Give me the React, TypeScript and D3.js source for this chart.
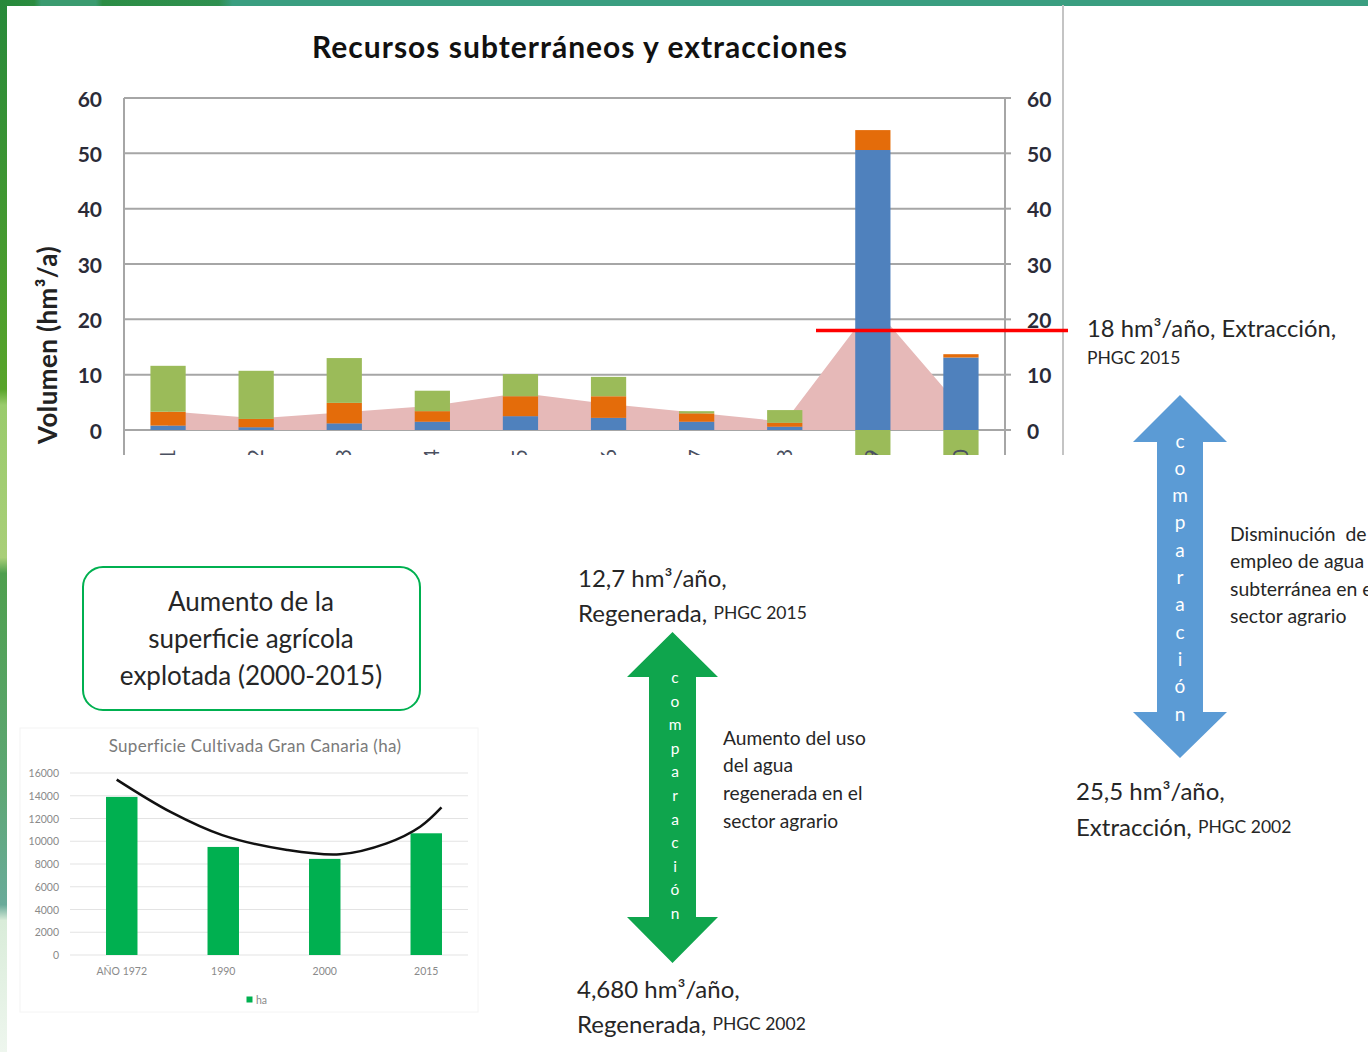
import React from 'react';
import * as d3 from 'd3';

// ---------- Main chart data ----------
const categories = ['1', '2', '3', '4', '5', '6', '7', '8', '9', '10'];
const blueValues = [0.8, 0.5, 1.2, 1.5, 2.5, 2.2, 1.5, 0.6, 50.6, 13.1];
const orangeValues = [2.5, 1.5, 3.7, 1.9, 3.6, 3.9, 1.5, 0.7, 3.6, 0.6];
const greenValues = [8.3, 8.7, 8.1, 3.7, 4.0, 3.5, 0.4, 2.3, -6, -6];
const areaValues = [3.4, 2.1, 3.2, 4.4, 6.7, 4.7, 3.1, 1.5, 22.5, 4.0];
const mainTicks = [0, 10, 20, 30, 40, 50, 60];
const extraction2015 = 18;

// ---------- Small chart data ----------
const farmYears = ['AÑO 1972', '1990', '2000', '2015'];
const farmHa = [13900, 9500, 8450, 10700];
const farmTicks = [0, 2000, 4000, 6000, 8000, 10000, 12000, 14000, 16000];
const trendIdx = [-0.05, 0.48, 0.99, 1.63, 2.15, 2.61, 2.94, 3.15];
const trendHa = [15420, 12580, 10540, 9230, 8850, 9810, 11270, 12970];

const W = 1368;
const H = 1052;
const FONT = "Lato, 'Open Sans', sans-serif";
const TXT = '#262626';

function arrowPath(cx: number, tipTop: number, baseTop: number, baseBot: number, tipBot: number, sh: number, hh: number) {
  const p = d3.path();
  p.moveTo(cx, tipTop);
  p.lineTo(cx + hh, baseTop);
  p.lineTo(cx + sh, baseTop);
  p.lineTo(cx + sh, baseBot);
  p.lineTo(cx + hh, baseBot);
  p.lineTo(cx, tipBot);
  p.lineTo(cx - hh, baseBot);
  p.lineTo(cx - sh, baseBot);
  p.lineTo(cx - sh, baseTop);
  p.lineTo(cx - hh, baseTop);
  p.closePath();
  return p.toString();
}

const letters = 'comparación'.split('');

export default function App() {
  // main chart scales
  const x = d3.scaleBand<string>().domain(categories).range([124, 1005]).paddingInner(0.6).paddingOuter(0.3);
  const y = d3.scaleLinear().domain([0, 60]).range([430, 98]);
  const rows = categories.map((c, i) => ({ cat: c, blue: blueValues[i], orange: orangeValues[i], green: greenValues[i] }));
  const stack = d3.stack<any>().keys(['blue', 'orange', 'green']).offset(d3.stackOffsetDiverging)(rows);
  const colors: Record<string, string> = { blue: '#4F81BD', orange: '#E46C0A', green: '#9BBB59' };
  const cx = (c: string) => (x(c) as number) + x.bandwidth() / 2;
  const area = d3.area<number>()
    .x((_, i) => cx(categories[i]))
    .y0(y(0))
    .y1((d) => y(d));

  // small chart scales
  const xs = d3.scaleBand<string>().domain(farmYears).range([71, 477]).paddingInner(0.69).paddingOuter(0.345);
  const ys = d3.scaleLinear().domain([0, 16000]).range([955, 773]);
  const xIdx = d3.scaleLinear().domain([0, 3]).range([
    (xs(farmYears[0]) as number) + xs.bandwidth() / 2,
    (xs(farmYears[3]) as number) + xs.bandwidth() / 2,
  ]);
  const trendLine = d3.line<number>()
    .x((_, i) => xIdx(trendIdx[i]))
    .y((d) => ys(d))
    .curve(d3.curveCatmullRom.alpha(0.5));

  return (
    <svg width={W} height={H} style={{ position: 'absolute', left: 0, top: 0, display: 'block' }} fontFamily={FONT}>
      <defs>
        <linearGradient id="topBand" x1="0" x2="1" y1="0" y2="0">
          <stop offset="0" stopColor="#26893a" />
          <stop offset="0.025" stopColor="#2b8c40" />
          <stop offset="0.03" stopColor="#3b9b70" />
          <stop offset="0.07" stopColor="#3b9b70" />
          <stop offset="0.075" stopColor="#2c8d45" />
          <stop offset="0.16" stopColor="#2f9050" />
          <stop offset="0.17" stopColor="#3a9e80" />
          <stop offset="1" stopColor="#3a9e80" />
        </linearGradient>
        <linearGradient id="leftBand" x1="0" x2="0" y1="0" y2="1">
          <stop offset="0" stopColor="#27893a" />
          <stop offset="0.37" stopColor="#58a42a" />
          <stop offset="0.385" stopColor="#9acb6c" />
          <stop offset="0.53" stopColor="#a9cf78" />
          <stop offset="0.545" stopColor="#4e9f4e" />
          <stop offset="0.75" stopColor="#5ea775" />
          <stop offset="0.86" stopColor="#6aab9a" />
          <stop offset="0.875" stopColor="#d9ecd9" />
          <stop offset="1" stopColor="#eef6ee" />
        </linearGradient>
        <clipPath id="mainClip">
          <rect x={0} y={0} width={1100} height={455} />
        </clipPath>
      </defs>

      <rect x={0} y={0} width={W} height={H} fill="#ffffff" />
      <rect x={0} y={0} width={W} height={6} fill="url(#topBand)" />
      <rect x={0} y={0} width={7} height={H} fill="url(#leftBand)" />

      {/* ---------- Main chart ---------- */}
      <text x={580} y={46} textAnchor="middle" dominantBaseline="central" fontSize={30} fontWeight={700} letterSpacing={1} fill="#111">
        Recursos subterráneos y extracciones
      </text>
      <text transform="translate(47,345) rotate(-90)" textAnchor="middle" dominantBaseline="central" fontSize={26} fontWeight={700} letterSpacing={0.4} fill="#222">
        Volumen (hm³/a)
      </text>

      <g clipPath="url(#mainClip)">
        {mainTicks.map((t) => (
          <line key={'g' + t} x1={124} x2={1005} y1={y(t)} y2={y(t)} stroke="#a6a6a6" strokeWidth={2} />
        ))}
        {mainTicks.map((t) => (
          <line key={'rt' + t} x1={1005} x2={1011} y1={y(t)} y2={y(t)} stroke="#a6a6a6" strokeWidth={2} />
        ))}
        <line x1={124} x2={124} y1={y(60)} y2={460} stroke="#a6a6a6" strokeWidth={2} />
        <line x1={1005} x2={1005} y1={y(60)} y2={460} stroke="#a6a6a6" strokeWidth={2} />
        <path d={area(areaValues) || ''} fill="#E6B9B8" />
        {stack.map((s) => (
          <g key={s.key} fill={colors[s.key]}>
            {s.map((d, i) => (
              <rect
                key={i}
                x={x(categories[i])}
                width={x.bandwidth()}
                y={y(Math.max(d[0], d[1]))}
                height={Math.abs(y(d[0]) - y(d[1]))}
              />
            ))}
          </g>
        ))}
        {categories.map((c) => (
          <text
            key={'xl' + c}
            transform={`translate(${cx(c) + 7},449) rotate(-90)`}
            textAnchor="end"
            fontSize={21}
            fill="#4a5060"
          >
            {c}
          </text>
        ))}
      </g>
      {mainTicks.map((t) => (
        <text key={'ll' + t} x={102} y={y(t)} textAnchor="end" dominantBaseline="central" fontSize={21} fontWeight={700} fill="#2b2b38">
          {t}
        </text>
      ))}
      {mainTicks.map((t) => (
        <text key={'rl' + t} x={1027} y={y(t)} textAnchor="start" dominantBaseline="central" fontSize={21} fontWeight={700} fill="#2b2b38">
          {t}
        </text>
      ))}
      <line x1={1063} x2={1063} y1={5} y2={455} stroke="#c4c4c4" strokeWidth={2} />
      <line x1={816} x2={1068} y1={y(extraction2015)} y2={y(extraction2015)} stroke="#ff0000" strokeWidth={3.5} />

      {/* ---------- Right annotations ---------- */}
      <text x={1087} y={328} dominantBaseline="central" fontSize={23.8} fill={TXT}>18 hm³/año, Extracción,</text>
      <text x={1087} y={357} dominantBaseline="central" fontSize={17.5} fill={TXT}>PHGC 2015</text>

      <path d={arrowPath(1180, 395, 442, 712, 758, 23, 47)} fill="#5B9BD5" />
      {letters.map((l, i) => (
        <text key={'bl' + i} x={1180} y={440 + i * 27.3} textAnchor="middle" dominantBaseline="central" fontSize={19} fill="#ffffff">
          {l}
        </text>
      ))}
      {['Disminución  de', 'empleo de agua', 'subterránea en el', 'sector agrario'].map((s, i) => (
        <text key={'dm' + i} x={1230} y={533 + i * 27.5} dominantBaseline="central" fontSize={19.4} fill={TXT} style={{ whiteSpace: 'pre' }}>
          {s}
        </text>
      ))}
      <text x={1076} y={790} dominantBaseline="central" fontSize={24} fill={TXT}>25,5 hm³/año,</text>
      <text x={1076} y={826} dominantBaseline="central" fontSize={24} fill={TXT}>
        Extracción, <tspan fontSize={17.5}>PHGC 2002</tspan>
      </text>

      {/* ---------- Middle annotations ---------- */}
      <text x={578} y={577} dominantBaseline="central" fontSize={24} fill={TXT}>12,7 hm³/año,</text>
      <text x={578} y={612} dominantBaseline="central" fontSize={24} fill={TXT}>
        Regenerada, <tspan fontSize={17.5}>PHGC 2015</tspan>
      </text>
      <path d={arrowPath(672.5, 632, 677, 917, 963, 23.5, 45.5)} fill="#0FA54D" />
      {letters.map((l, i) => (
        <text key={'gl' + i} x={675} y={677 + i * 23.6} textAnchor="middle" dominantBaseline="central" fontSize={15.5} fill="#ffffff">
          {l}
        </text>
      ))}
      {['Aumento del uso', 'del agua', 'regenerada en el', 'sector agrario'].map((s, i) => (
        <text key={'au' + i} x={723} y={737 + i * 27.7} dominantBaseline="central" fontSize={19.2} fill={TXT}>
          {s}
        </text>
      ))}
      <text x={577} y={988} dominantBaseline="central" fontSize={24} fill={TXT}>4,680 hm³/año,</text>
      <text x={577} y={1023} dominantBaseline="central" fontSize={24} fill={TXT}>
        Regenerada, <tspan fontSize={17.5}>PHGC 2002</tspan>
      </text>

      {/* ---------- Rounded box ---------- */}
      <rect x={83} y={567} width={337} height={143} rx={20} ry={20} fill="#ffffff" stroke="#00B050" strokeWidth={2} />
      {['Aumento de la', 'superficie agrícola', 'explotada (2000-2015)'].map((s, i) => (
        <text key={'bx' + i} x={251} y={601 + i * 37} textAnchor="middle" dominantBaseline="central" fontSize={26} fill={TXT}>
          {s}
        </text>
      ))}

      {/* ---------- Small chart ---------- */}
      <rect x={20} y={728} width={458} height={284} fill="#ffffff" stroke="#f4f4f4" strokeWidth={1} />
      <text x={255} y={745} textAnchor="middle" dominantBaseline="central" fontSize={17} letterSpacing={0.3} fill="#7a7a7a">
        Superficie Cultivada Gran Canaria (ha)
      </text>
      {farmTicks.map((t) => (
        <line key={'sg' + t} x1={70} x2={468} y1={ys(t)} y2={ys(t)} stroke="#e3e3e3" strokeWidth={1} />
      ))}
      {farmTicks.map((t) => (
        <text key={'sl' + t} x={59} y={ys(t)} textAnchor="end" dominantBaseline="central" fontSize={10.5} fill="#8a8a8a">
          {t}
        </text>
      ))}
      {farmYears.map((c, i) => (
        <rect key={'fb' + c} x={xs(c)} width={xs.bandwidth()} y={ys(farmHa[i])} height={ys(0) - ys(farmHa[i])} fill="#00B050" />
      ))}
      {farmYears.map((c) => (
        <text key={'fx' + c} x={(xs(c) as number) + xs.bandwidth() / 2} y={971} textAnchor="middle" dominantBaseline="central" fontSize={10.5} fill="#8a8a8a">
          {c}
        </text>
      ))}
      <path d={trendLine(trendHa) || ''} fill="none" stroke="#111111" strokeWidth={2.5} />
      <rect x={246.5} y={996.5} width={6} height={6} fill="#00B050" />
      <text x={256} y={1000} dominantBaseline="central" fontSize={10.5} fill="#8a8a8a">ha</text>
    </svg>
  );
}
